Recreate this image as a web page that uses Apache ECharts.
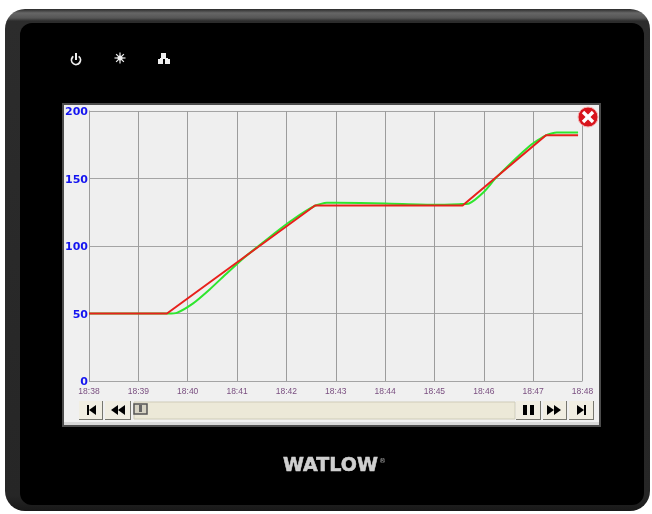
<!DOCTYPE html>
<html><head><meta charset="utf-8">
<style>html,body{margin:0;padding:0;background:#fff}#c{width:652px;height:514px}</style>
<script src="https://cdn.jsdelivr.net/npm/echarts@6/dist/echarts.min.js"></script>
</head><body><div id="c"></div>
<script>
const timeLabels = ['18:38','18:39','18:40','18:41','18:42','18:43','18:44','18:45','18:46','18:47','18:48'];
const yTicks = [0,50,100,150,200];
const redMinutes = [0,1.58,4.58,7.57,9.26,9.91];
const redValues = [50,50,130,130,182,182];
const greenMinutes = [0,1.6,1.78,2.11,2.45,2.79,3.13,3.46,3.8,4.14,4.58,4.82,5,6,7,7.5,7.7,8,8.26,8.94,9.26,9.48,9.91];
const greenValues = [50,50,50.5,57.5,68,79.7,91,100.7,110.6,119.8,129.8,132,132,131.5,130.5,131,131.5,140,151,174.5,182,184,184];

const zip = (a,b)=>a.map((v,i)=>[v,b[i]]);
const tri = (pts,fill='#000')=>({type:'polygon',z:-5,shape:{points:pts},style:{fill}});
const rect = (x,y,w,h,fill,r=0,extra={})=>({type:'rect',z:-6,shape:{x,y,width:w,height:h,r},style:Object.assign({fill},extra)});
const btn = (x,w)=>[
  rect(x,401,w,19,'#f1eee2'),
  rect(x,419,w,1,'#77776f'),rect(x+w-1,401,1,19,'#77776f')];
const bezelFill = new echarts.graphic.LinearGradient(0,0,0,1,[
  {offset:0,color:'#2a2a2a'},{offset:0.008,color:'#666666'},{offset:0.018,color:'#555555'},
  {offset:0.024,color:'#2c2c2c'},{offset:0.97,color:'#262626'},{offset:1,color:'#181818'}]);

const chrome = [
  rect(5,9,645,502,bezelFill,20),
  rect(20,23,624,482,'#000000',12),
  rect(62,103,539,324,'#4c4c4c'),
  rect(64,105,535,320,'#f0f0f0'),
  rect(64,422,535,3,'#d8d8d8'),
  rect(89,111,494,270,'#efefef'),
  rect(134,402,381,17,'#ece9d8',0,{stroke:'#cfccb8',lineWidth:1}),
  rect(134,404,13,10,'#d6d3c4',0,{stroke:'#555',lineWidth:1.5}),
  rect(139,405,3,7,'#666'),
  ...btn(79,24),...btn(105,26),...btn(516,25),...btn(543,24),...btn(569,25),
  rect(87,405,2,10,'#000'),tri([[96,405],[96,415],[89,410]]),
  tri([[118,405],[118,415],[111,410]]),tri([[125,405],[125,415],[118,410]]),
  rect(523,405,4,10,'#000'),rect(530,405,4,10,'#000'),
  tri([[547,405],[547,415],[554,410]]),tri([[554,405],[554,415],[561,410]]),
  tri([[577,405],[577,415],[584,410]]),rect(584,405,2,10,'#000'),
  {type:'arc',z:-5,shape:{cx:76,cy:60,r:4.5,startAngle:-Math.PI*0.3,endAngle:Math.PI*1.3,clockwise:true},style:{stroke:'#eee',lineWidth:1.8,fill:null}},
  rect(75,53,2,7,'#eee'),
  {type:'circle',z:-5,shape:{cx:120,cy:58,r:2.5},style:{fill:'#eee'}},
  ...[0,45,90,135].map(a=>{const t=a*Math.PI/180,d=5.5;return {type:'line',z:-5,shape:{x1:120-d*Math.cos(t),y1:58-d*Math.sin(t),x2:120+d*Math.cos(t),y2:58+d*Math.sin(t)},style:{stroke:'#eee',lineWidth:1.2}};}),
  rect(161,53,5,5,'#eee'),rect(158,59,5,5,'#eee'),rect(165,59,5,5,'#eee'),rect(160,58,8,1,'#eee'),
  {type:'text',z:-5,style:{text:'WATLOW',x:283,y:457,fill:'#cfcfcf',stroke:'#cfcfcf',lineWidth:0.6,font:'bold 19px "DejaVu Sans"'}},
  {type:'text',z:-5,style:{text:'®',x:379,y:458,fill:'#aaa',font:'7px "DejaVu Sans"'}},
  {type:'circle',z:50,shape:{cx:588,cy:117,r:10},style:{fill:'#d8141c',stroke:'#f3b5b5',lineWidth:1}},
  {type:'line',z:51,shape:{x1:583,y1:112,x2:593,y2:122},style:{stroke:'#fff',lineWidth:3.4}},
  {type:'line',z:51,shape:{x1:593,y1:112,x2:583,y2:122},style:{stroke:'#fff',lineWidth:3.4}}
];

const chart = echarts.init(document.getElementById('c'),null,{renderer:'canvas'});
chart.setOption({
  animation:false,
  backgroundColor:'#fff',
  graphic:{elements:chrome},
  grid:{left:89,right:69.5,top:111,bottom:133,show:false},
  xAxis:{type:'value',min:0,max:10,interval:1,
    axisLine:{show:false},axisTick:{show:false},
    axisLabel:{margin:6,color:'#7a4f80',fontFamily:'"Liberation Sans"',fontSize:8.5,
      formatter:v=>timeLabels[v],showMinLabel:true,showMaxLabel:true},
    splitLine:{show:true,lineStyle:{color:'#9c9c9c',width:1}}},
  yAxis:{type:'value',min:yTicks[0],max:yTicks[4],interval:50,
    axisLine:{show:true,lineStyle:{color:'#9c9c9c',width:1}},axisTick:{show:false},
    axisLabel:{margin:1,verticalAlign:'top',lineHeight:3,color:'#1414f0',fontFamily:'"DejaVu Sans"',fontWeight:'bold',fontSize:11},
    splitLine:{show:true,lineStyle:{color:'#a4a4a4',width:1}}},
  series:[
    {name:'Green',type:'line',data:zip(greenMinutes,greenValues),showSymbol:false,smooth:0.2,z:2,lineStyle:{color:'#2ee62e',width:2}},
    {name:'Red',type:'line',data:zip(redMinutes,redValues),showSymbol:false,z:3,lineStyle:{color:'#e8201c',width:2}}
  ]
});
</script></body></html>
